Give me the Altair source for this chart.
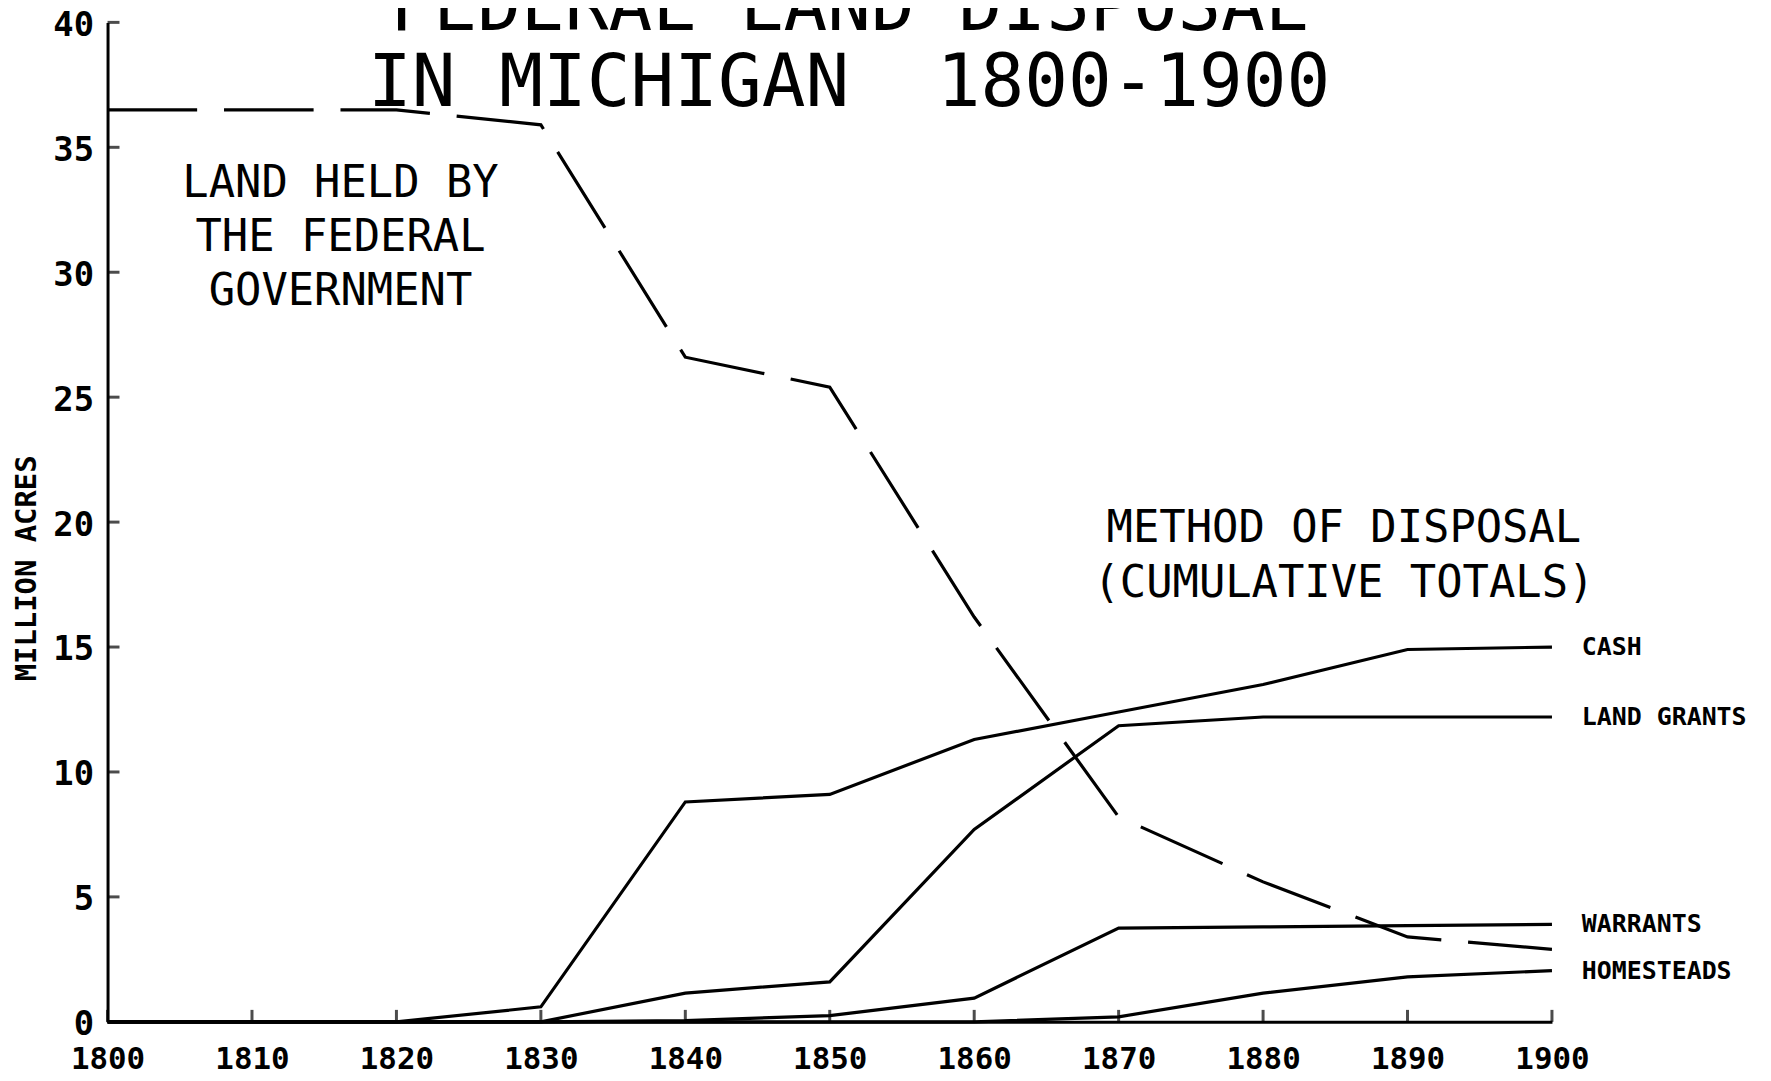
import altair as alt
import pandas as pd

# ---- data ----
years = [1800, 1810, 1820, 1830, 1840, 1850, 1860, 1870, 1880, 1890, 1900]
federal_held = [36.5, 36.5, 36.5, 35.9, 26.6, 25.4, 16.2, 8.2, 5.6, 3.4, 2.9]
cash = [0, 0, 0, 0.6, 8.8, 9.1, 11.3, 12.4, 13.5, 14.9, 15.0]
land_grants = [0, 0, 0, 0, 1.15, 1.6, 7.7, 11.85, 12.2, 12.2, 12.2]
warrants = [0, 0, 0, 0, 0.05, 0.25, 0.95, 3.75, 3.8, 3.85, 3.9]
homesteads = [0, 0, 0, 0, 0, 0, 0, 0.2, 1.15, 1.8, 2.05]
series_names = ["CASH", "LAND GRANTS", "WARRANTS", "HOMESTEADS"]
y_ticks = [0, 5, 10, 15, 20, 25, 30, 35, 40]
x_ticks = years
title_lines = ["FEDERAL LAND DISPOSAL", "IN MICHIGAN\u00a0 1800-1900"]
note_federal = ["LAND HELD BY", "THE FEDERAL", "GOVERNMENT"]
note_method = ["METHOD OF DISPOSAL", "(CUMULATIVE TOTALS)"]
y_title = "MILLION ACRES"

MONO = "DejaVu Sans Mono"

series_values = [cash, land_grants, warrants, homesteads]
rows = []
for name, vals in zip(series_names, series_values):
    for yr, v in zip(years, vals):
        rows.append({"year": yr, "value": v, "series": name})
df_solid = pd.DataFrame(rows)
df_fed = pd.DataFrame({"year": years, "value": federal_held})
df_lab = pd.DataFrame({"year": [years[-1]] * 4,
                       "value": [vals[-1] for vals in series_values],
                       "label": series_names})
df_yt = pd.DataFrame({"tick": y_ticks})
df_xt = pd.DataFrame({"tick": x_ticks})

xs = alt.Scale(domain=[1800, 1900], nice=False, zero=False)
ys = alt.Scale(domain=[0, 40], nice=False)

x_axis = alt.Axis(values=x_ticks, format="d", title=None, ticks=False,
                  labelPadding=23, labelFontSize=31, labelFont=MONO,
                  labelFontWeight="bold", labelColor="black", domainWidth=3,
                  domainColor="black", grid=False, labelFlush=False)
y_axis = alt.Axis(values=y_ticks, title=y_title, ticks=False,
                  labelPadding=14, labelFontSize=34, labelFont=MONO,
                  labelFontWeight="bold", labelColor="black", domainWidth=3,
                  domainColor="black", grid=False, labelFlush=False,
                  labelOffset=3,
                  titleFont=MONO, titleFontWeight="bold", titleFontSize=29,
                  titleColor="black", titleX=-81, titleY=548,
                  titleAlign="center", titleBaseline="middle", titleAngle=-90)

fed = alt.Chart(df_fed).mark_line(color="black", strokeWidth=3.2,
                                  strokeDash=[90, 27]).encode(
    x=alt.X("year:Q", scale=xs, axis=x_axis),
    y=alt.Y("value:Q", scale=ys, axis=y_axis),
)

solid = alt.Chart(df_solid).mark_line(color="black", strokeWidth=3.2).encode(
    x=alt.X("year:Q", scale=xs),
    y=alt.Y("value:Q", scale=ys),
    detail="series:N",
)

labels = alt.Chart(df_lab).mark_text(align="left", baseline="middle", dx=30,
                                     font=MONO, fontWeight="bold",
                                     fontSize=25, color="black").encode(
    x=alt.X("year:Q", scale=xs),
    y=alt.Y("value:Q", scale=ys),
    text="label:N",
)

ytick = alt.Chart(df_yt).mark_tick(orient="horizontal", size=12, thickness=3,
                                   xOffset=6, color="black").encode(
    x=alt.datum(1800, scale=xs),
    y=alt.Y("tick:Q", scale=ys),
)
xtick = alt.Chart(df_xt).mark_tick(orient="vertical", size=12, thickness=3,
                                   yOffset=-6, color="black").encode(
    x=alt.X("tick:Q", scale=xs),
    y=alt.datum(0, scale=ys),
)

one = alt.Data(values=[{"a": 1}])
title = alt.Chart(one).mark_text(text=title_lines, align="center",
                                 baseline="alphabetic", lineHeight=76,
                                 font=MONO, fontSize=73, color="black").encode(
    x=alt.value(745), y=alt.value(8))
note1 = alt.Chart(one).mark_text(text=note_federal, align="center",
                                 baseline="alphabetic", lineHeight=54.5,
                                 font=MONO, fontSize=44, color="black").encode(
    x=alt.value(234), y=alt.value(175))
note2 = alt.Chart(one).mark_text(text=note_method, align="center",
                                 baseline="alphabetic", lineHeight=55,
                                 font=MONO, fontSize=44, color="black").encode(
    x=alt.value(1242), y=alt.value(522))

chart = alt.layer(fed, solid, labels, ytick, xtick, title, note1, note2).properties(
    width=1451, height=1004,
    autosize=alt.AutoSizeParams(type="none"),
    padding={"left": 100, "top": 12, "right": 212, "bottom": 57},
    background="white",
).configure_view(stroke=None)

chart.save("out.html", embed_options={"renderer": "svg", "actions": False})
